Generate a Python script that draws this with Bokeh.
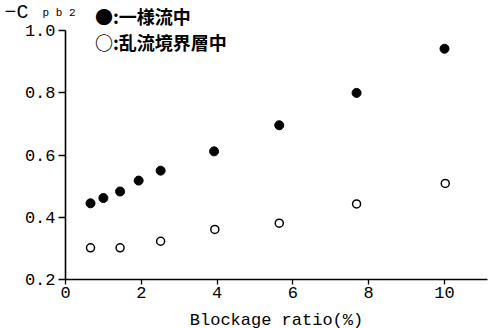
from bokeh.plotting import figure
from bokeh.models import Range1d, FixedTicker, Label, Legend, LegendItem, LinearAxis
from bokeh.embed import file_html
from bokeh.resources import INLINE

# Data
ratio_uniform = [0.66, 1.0, 1.44, 1.93, 2.51, 3.92, 5.64, 7.68, 10.0]
cpb_uniform = [0.445, 0.462, 0.483, 0.518, 0.55, 0.612, 0.696, 0.80, 0.942]
ratio_turb = [0.66, 1.44, 2.51, 3.94, 5.64, 7.68, 10.02]
cpb_turb = [0.302, 0.302, 0.323, 0.361, 0.381, 0.443, 0.509]
x_ticks = [0, 2, 4, 6, 8, 10]
y_ticks = [0.2, 0.4, 0.6, 0.8, 1.0]
label_uniform = "●:一様流中"
label_turb = "○:乱流境界層中"
x_label = "Blockage ratio(%)"

MONO = "Liberation Mono"
CJK = "Noto Sans CJK JP"

W, H = 491, 328
PX_X = 37.9   # pixels per x unit
PX_Y = 311.0  # pixels per y unit
X0_PX, Y02_PX = 65, 279   # canvas pixel of x=0 and y=0.2
x_lo = -X0_PX / PX_X
x_hi = x_lo + W / PX_X
y_lo = 0.2 - (H - Y02_PX) / PX_Y
y_hi = y_lo + H / PX_Y

p = figure(width=W, height=H, output_backend="svg", toolbar_location=None,
           x_range=Range1d(x_lo, x_hi), y_range=Range1d(y_lo, y_hi),
           x_axis_location=None, y_axis_location=None,
           min_border=0)
p.outline_line_color = None
p.xgrid.visible = False
p.ygrid.visible = False
p.background_fill_color = "white"
p.border_fill_color = "white"

r1 = p.scatter(ratio_uniform, cpb_uniform, size=9, marker="circle",
               fill_color="black", line_color="black")
r2 = p.scatter(ratio_turb, cpb_turb, size=8, marker="circle",
               fill_color="white", line_color="black", line_width=1.5)

yax = LinearAxis(fixed_location=0, bounds=(0.2, 1.0))
xax = LinearAxis(fixed_location=0.2, bounds=(0, 11.13))
p.add_layout(yax, "left")
p.add_layout(xax, "below")

for ax in (xax, yax):
    ax.axis_line_width = 1.6
    ax.axis_line_color = "black"
    ax.major_tick_line_color = "black"
    ax.major_tick_line_width = 1.3
    ax.minor_tick_line_color = None
    ax.major_label_text_font = MONO
    ax.major_label_text_font_size = "17px"
    ax.major_label_text_color = "black"

xax.ticker = FixedTicker(ticks=x_ticks)
yax.ticker = FixedTicker(ticks=y_ticks)
xax.major_tick_out = 5
xax.major_tick_in = 0
yax.major_tick_out = 7
yax.major_tick_in = 0
xax.major_label_standoff = 2
yax.major_label_standoff = 3
yax.major_label_overrides = {0.2: "0.2", 0.4: "0.4", 0.6: "0.6", 0.8: "0.8", 1.0: "1.0"}

xax.axis_label = x_label
xax.axis_label_text_font = MONO
xax.axis_label_text_font_size = "17px"
xax.axis_label_text_font_style = "normal"
xax.axis_label_text_color = "black"
xax.axis_label_standoff = 10

# Y quantity title at top-left (screen units from frame bottom-left = canvas bottom-left)
p.add_layout(Label(x=4, y=H - 12, x_units="screen", y_units="screen", text="−C",
                   text_font=MONO, text_font_size="20px", text_color="black",
                   text_baseline="alphabetic"))
p.add_layout(Label(x=42, y=H - 12, x_units="screen", y_units="screen", text="p b 2",
                   text_font=MONO, text_font_size="11px", text_color="black",
                   text_baseline="alphabetic"))

legend = Legend(items=[LegendItem(label=label_uniform, renderers=[r1]),
                       LegendItem(label=label_turb, renderers=[r2])],
                location=(95, H - 55), padding=0, margin=0, spacing=0,
                glyph_width=0, glyph_height=20, label_height=20, label_standoff=0,
                label_text_font=CJK, label_text_font_size="18px",
                label_text_font_style="bold", label_text_color="black",
                border_line_color=None, background_fill_alpha=0)
p.add_layout(legend)

open("out.html", "w").write(file_html(p, INLINE))
